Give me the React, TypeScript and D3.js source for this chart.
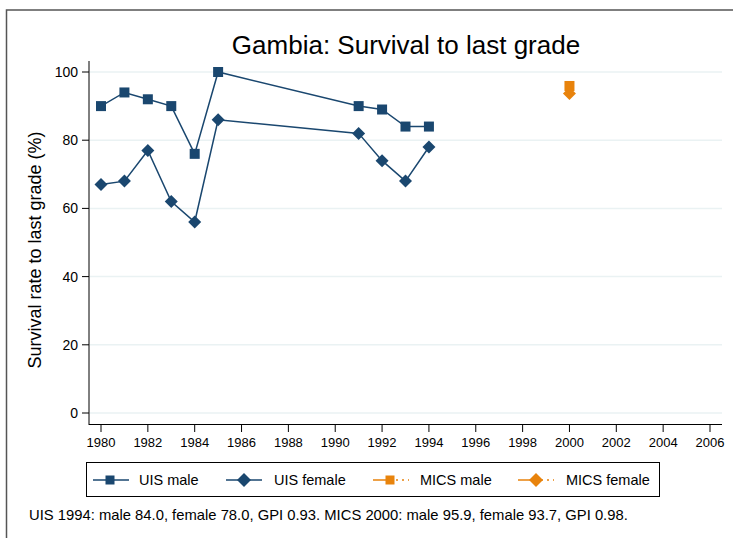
import * as d3 from "d3";

const uisYears = [1980, 1981, 1982, 1983, 1984, 1985, 1991, 1992, 1993, 1994];
const uisMale = [90, 94, 92, 90, 76, 100, 90, 89, 84, 84];
const uisFemale = [67, 68, 77, 62, 56, 86, 82, 74, 68, 78];
const micsYears = [2000];
const micsMale = [95.9];
const micsFemale = [93.7];
const xTicks = d3.range(1980, 2007, 2);
const yTicks = [0, 20, 40, 60, 80, 100];

const BLUE = "#1a476f";
const ORANGE = "#e8830c";
const FONT = "Liberation Sans, Arial, sans-serif";

const W = 733;
const H = 538;

export default function App() {
  const x = d3.scaleLinear().domain([1980, 2006]).range([101, 710]);
  const y = d3.scaleLinear().domain([0, 100]).range([413, 72]);
  const line = d3
    .line<[number, number]>()
    .x((d) => x(d[0]))
    .y((d) => y(d[1]));

  const square = (cx: number, cy: number, color: string, s = 10) => (
    <rect x={cx - s / 2} y={cy - s / 2} width={s} height={s} fill={color} />
  );
  const diamond = (cx: number, cy: number, color: string, r = 6.5) => (
    <path d={`M${cx},${cy - r}L${cx + r},${cy}L${cx},${cy + r}L${cx - r},${cy}Z`} fill={color} />
  );

  const legendItems = [
    { label: "UIS male", color: BLUE, shape: "square", dash: false, x: 93, tx: 139 },
    { label: "UIS female", color: BLUE, shape: "diamond", dash: false, x: 226, tx: 274 },
    { label: "MICS male", color: ORANGE, shape: "square", dash: true, x: 373, tx: 420 },
    { label: "MICS female", color: ORANGE, shape: "diamond", dash: true, x: 518, tx: 566 },
  ];

  return (
    <svg width={W} height={H} style={{ position: "absolute", left: 0, top: 0 }} fontFamily={FONT}>
      <rect x={0} y={0} width={W} height={H} fill="#fff" />
      <rect x={6.5} y={10} width={W} height={H} fill="none" stroke="#555" strokeWidth={1.5} />

      <text x={406} y={54} textAnchor="middle" fontSize={26} fill="#000">
        Gambia: Survival to last grade
      </text>

      {/* grid */}
      {yTicks.map((t) => (
        <line key={t} x1={90} x2={722} y1={y(t)} y2={y(t)} stroke="#eaf2f3" strokeWidth={1.5} />
      ))}

      {/* y axis */}
      <line x1={89} x2={89} y1={61} y2={425} stroke="#000" />
      {yTicks.map((t) => (
        <g key={t}>
          <line x1={82} x2={89} y1={y(t)} y2={y(t)} stroke="#000" />
          <text x={78} y={y(t)} dy="0.36em" textAnchor="end" fontSize={14}>
            {t}
          </text>
        </g>
      ))}
      <text transform={`translate(41,250) rotate(-90)`} textAnchor="middle" fontSize={18}>
        Survival rate to last grade (%)
      </text>

      {/* x axis */}
      <line x1={89} x2={722} y1={424.5} y2={424.5} stroke="#000" />
      {xTicks.map((t) => (
        <g key={t}>
          <line x1={x(t)} x2={x(t)} y1={425} y2={432} stroke="#000" />
          <text x={x(t)} y={447} textAnchor="middle" fontSize={13}>
            {t}
          </text>
        </g>
      ))}

      {/* UIS lines */}
      <path
        d={line(uisYears.map((yr, i) => [yr, uisMale[i]]) as [number, number][]) ?? ""}
        fill="none"
        stroke={BLUE}
        strokeWidth={1.5}
      />
      <path
        d={line(uisYears.map((yr, i) => [yr, uisFemale[i]]) as [number, number][]) ?? ""}
        fill="none"
        stroke={BLUE}
        strokeWidth={1.5}
      />
      {uisYears.map((yr, i) => (
        <g key={"m" + yr}>{square(x(yr), y(uisMale[i]), BLUE)}</g>
      ))}
      {uisYears.map((yr, i) => (
        <g key={"f" + yr}>{diamond(x(yr), y(uisFemale[i]), BLUE)}</g>
      ))}

      {/* MICS */}
      {micsYears.map((yr, i) => (
        <g key={"mm" + yr}>{square(x(yr), y(micsMale[i]), ORANGE)}</g>
      ))}
      {micsYears.map((yr, i) => (
        <g key={"mf" + yr}>{diamond(x(yr), y(micsFemale[i]), ORANGE)}</g>
      ))}

      {/* legend */}
      <rect x={86.5} y={462.5} width={573} height={34} fill="#fff" stroke="#000" />
      {legendItems.map((it) => (
        <g key={it.label}>
          <line
            x1={it.x}
            x2={it.x + 36}
            y1={480}
            y2={480}
            stroke={it.color}
            strokeWidth={1.5}
            strokeDasharray={it.dash ? "19,4,2,4,2,4" : undefined}
          />
          {it.shape === "square"
            ? square(it.x + 17, 480, it.color, 9)
            : diamond(it.x + 18, 480, it.color, 7)}
          <text x={it.tx} y={480} dy="0.36em" fontSize={14.5}>
            {it.label}
          </text>
        </g>
      ))}

      <text x={29} y={520} fontSize={14.8}>
        UIS 1994: male 84.0, female 78.0, GPI 0.93. MICS 2000: male 95.9, female 93.7, GPI 0.98.
      </text>
    </svg>
  );
}
